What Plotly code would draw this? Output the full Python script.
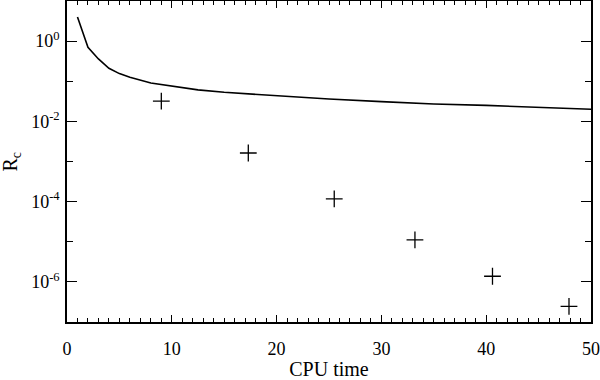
import plotly.graph_objects as go

# residual curve
line_t = [1.0, 2.0, 3.0, 4.0, 5.0, 6.0, 8.0, 10.0, 12.5, 15.0, 20.0, 25.0, 30.0, 35.0, 40.0, 45.0, 50.0]
line_r = [4.0, 0.70, 0.36, 0.21, 0.155, 0.125, 0.090, 0.075, 0.061, 0.053, 0.043, 0.036, 0.031, 0.027, 0.025, 0.022, 0.020]

# crosses
pts_t = [9.0, 17.3, 25.5, 33.2, 40.6, 47.9]
pts_r = [0.032, 0.00163, 1.17e-4, 1.12e-5, 1.38e-6, 2.46e-7]

major_y = [1e0, 1e-2, 1e-4, 1e-6]
major_y_text = ["10<sup>0</sup>", "10<sup>-2</sup>", "10<sup>-4</sup>", "10<sup>-6</sup>"]
minor_y = [1e1, 1e-1, 1e-3, 1e-5, 1e-7]

fig = go.Figure()
fig.add_trace(go.Scatter(x=line_t, y=line_r, mode="lines",
                         line=dict(color="black", width=1.6), showlegend=False))
fig.add_trace(go.Scatter(x=pts_t, y=pts_r, mode="markers",
                         marker=dict(symbol="cross-thin", size=12,
                                     line=dict(color="black", width=1.3)),
                         showlegend=False))

tick_font = dict(family="Liberation Serif, DejaVu Serif", size=18, color="black")
title_font = dict(family="Liberation Serif, DejaVu Serif", size=20, color="black")

fig.update_layout(
    width=600, height=380,
    margin=dict(l=67, r=9, t=1, b=58, autoexpand=False),
    paper_bgcolor="white", plot_bgcolor="white",
    font=dict(family="Liberation Serif, DejaVu Serif", size=18, color="black"),
    xaxis=dict(range=[0, 50], tickvals=[0, 10, 20, 30, 40, 50],
               tickfont=tick_font, automargin=False, ticklabelstandoff=10,
               ticks="inside", ticklen=7, tickwidth=1.3, tickcolor="black",
               minor=dict(dtick=1, ticks="inside", ticklen=4, tickcolor="black", tickwidth=1),
               showline=True, linecolor="black", linewidth=1.5, mirror="allticks",
               showgrid=False, zeroline=False,
               title=dict(text="CPU time", font=title_font, standoff=8)),
    yaxis=dict(type="log", range=[-7, 1],
               tickvals=major_y, ticktext=major_y_text,
               tickfont=tick_font, automargin=False, ticklabelstandoff=2,
               ticks="inside", ticklen=10, tickwidth=1.3, tickcolor="black",
               minor=dict(tickvals=minor_y, ticks="inside", ticklen=6, tickcolor="black", tickwidth=1.3),
               showline=True, linecolor="black", linewidth=1.5, mirror="allticks",
               showgrid=False, zeroline=False),
)

# y-axis title placed by hand so it sits close to the left edge
fig.add_annotation(text="R<sub>c</sub>", xref="paper", yref="paper", x=0, y=0.5,
                   xanchor="center", yanchor="middle", xshift=-56, textangle=-90,
                   showarrow=False, font=title_font)

fig.write_html("out.html", config={"displayModeBar": False},
               post_script="document.body.style.margin='0';")
